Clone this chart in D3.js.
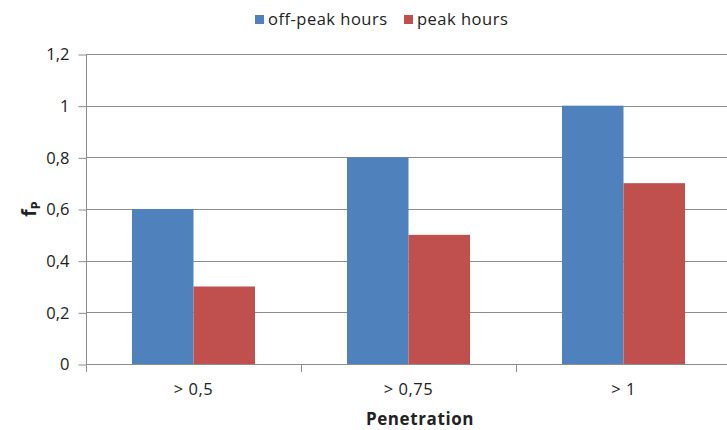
<!DOCTYPE html>
<html><head><meta charset="utf-8">
<script src="https://cdn.jsdelivr.net/npm/d3@7"></script>
<style>body{margin:0;background:#fff}svg{display:block}</style>
</head><body>
<svg id="c" width="727" height="430"></svg>
<script>
const categories = ["> 0,5", "> 0,75", "> 1"];
const seriesNames = ["off-peak hours", "peak hours"];
const offPeak = [0.6, 0.8, 1.0];
const peak = [0.3, 0.5, 0.7];
const yTicks = [0, 0.2, 0.4, 0.6, 0.8, 1.0, 1.2];
const yTickLabels = ["0", "0,2", "0,4", "0,6", "0,8", "1", "1,2"];
const colors = ["#4F81BD", "#C0504D"];

const svg = d3.select("#c");
const font = "'Open Sans', 'Liberation Sans', sans-serif";
const L = 86, R = 731, T = 54, B = 364;

const x = d3.scaleBand().domain(categories).range([L, R]).paddingInner(0).paddingOuter(0);
const inner = d3.scaleBand().domain(seriesNames).range([0, x.bandwidth()]).paddingInner(0).paddingOuter(0.748);
const y = d3.scaleLinear().domain([0, 1.2]).range([B, T]);

// gridlines
svg.append("g").selectAll("line").data(yTicks).join("line")
  .attr("x1", L).attr("x2", R)
  .attr("y1", d => Math.round(y(d)) + 0.5).attr("y2", d => Math.round(y(d)) + 0.5)
  .attr("stroke", "#8c8c8c").attr("stroke-width", 1);

// bars
const data = categories.map((c, i) => ({c, vals: [offPeak[i], peak[i]]}));
const g = svg.append("g");
data.forEach(d => {
  g.selectAll(null).data(d.vals.map((v, j) => ({v, s: seriesNames[j], j}))).join("rect")
    .attr("x", e => x(d.c) + inner(e.s))
    .attr("width", inner.bandwidth())
    .attr("y", e => y(e.v))
    .attr("height", e => y(0) - y(e.v))
    .attr("fill", e => colors[e.j]);
});

// y axis
const yAxis = d3.axisLeft(y).tickValues(yTicks).tickSize(8).tickPadding(9)
  .tickFormat((d, i) => yTickLabels[i]);
const ya = svg.append("g").attr("transform", `translate(${L + 0.5},0)`).call(yAxis);
ya.selectAll(".tick line").attr("stroke", "#8c8c8c").attr("transform", "translate(0,0.5)");
ya.selectAll(".tick text").attr("font-family", font).attr("font-size", 16.5).attr("fill", "#222").attr("dy", "0.36em");
ya.select(".domain").attr("stroke", "#8c8c8c").attr("d", `M0,${T}V${B + 8}`);

// x axis
const xa = svg.append("g").attr("transform", `translate(0,${B + 0.5})`)
  .call(d3.axisBottom(x).tickSize(0).tickPadding(19));
xa.select(".domain").attr("stroke", "#8c8c8c").attr("d", `M${L},0H${R}`);
xa.selectAll(".tick text").attr("font-family", font).attr("font-size", 16.5).attr("fill", "#222").attr("letter-spacing", 0.5);
// category separator ticks
svg.append("g").selectAll("line").data(categories.slice(1)).join("line")
  .attr("x1", d => Math.round(x(d)) + 0.5).attr("x2", d => Math.round(x(d)) + 0.5)
  .attr("y1", B).attr("y2", B + 8).attr("stroke", "#8c8c8c");

// axis titles
svg.append("text").attr("x", 420).attr("y", 425).attr("text-anchor", "middle")
  .attr("font-family", font).attr("font-size", 17).attr("font-weight", "bold").attr("fill", "#222")
  .attr("letter-spacing", 0.6).text("Penetration");
const yt = svg.append("text").attr("transform", `translate(36,${(T + B) / 2}) rotate(-90)`)
  .attr("text-anchor", "middle").attr("font-family", font).attr("font-weight", "bold").attr("fill", "#222").attr("font-size", 19);
yt.append("tspan").text("f");
yt.append("tspan").attr("font-size", 13).attr("dy", 4).text("P");

// legend
const legendX = [255, 404];
const lg = svg.append("g");
seriesNames.forEach((s, i) => {
  lg.append("rect").attr("x", legendX[i]).attr("y", 15).attr("width", 9).attr("height", 9).attr("fill", colors[i]);
  lg.append("text").attr("x", legendX[i] + 13).attr("y", 25).attr("font-family", font).attr("font-size", 16.5)
    .attr("letter-spacing", 0.5).attr("fill", "#222").text(s);
});
</script>
</body></html>
